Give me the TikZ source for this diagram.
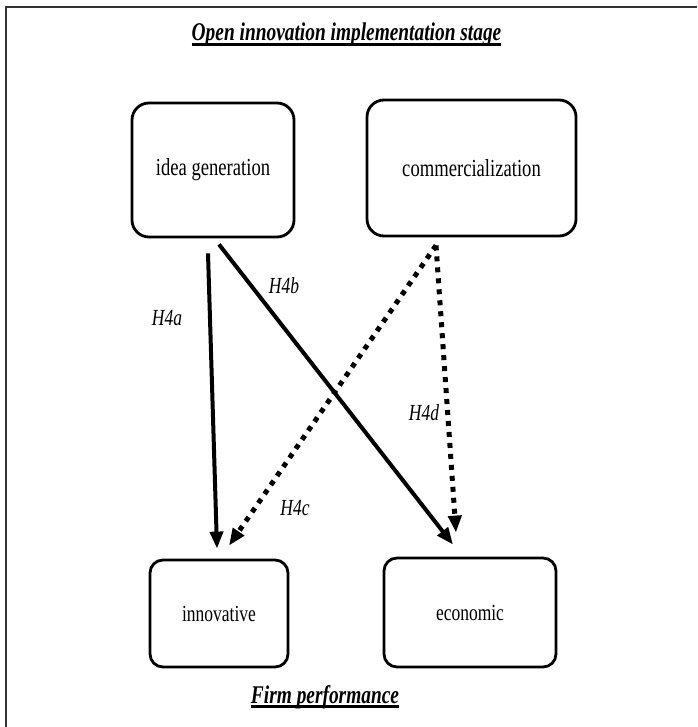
\documentclass[tikz,border=0pt]{standalone}
\usepackage{fontspec}
\setmainfont{Liberation Serif}[FakeStretch=0.76]
\usetikzlibrary{arrows.meta}
\newcommand\thickul[1]{\setbox0\hbox{#1}\rlap{\rule[-5pt]{\wd0}{2.6pt}}\box0}
\begin{document}
\begin{tikzpicture}[x=1pt,y=-1pt,
  box/.style={draw, line width=2.8pt, rounded corners=17pt, inner sep=0pt, align=center,
    font=\fontsize{24.5}{28}\selectfont},
  lowbox/.style={box, rounded corners=13pt, font=\fontsize{23}{27}\selectfont},
  heading/.style={inner sep=0pt, anchor=base, font=\fontsize{25.5}{30}\selectfont\bfseries\itshape},
  hyp/.style={inner sep=0pt, font=\fontsize{23}{27}\selectfont\itshape},
  solidarrow/.style={line width=4pt, -{Triangle[length=17pt,width=13pt]}},
  dotarrow/.style={line width=5pt, dash pattern=on 5pt off 6pt, -{Triangle[length=17pt,width=13pt]}},
  frameline/.style={line width=2pt, black!80}]
\useasboundingbox (0,0) rectangle (697,727);
\draw[frameline] (697,7) -- (6,7) -- (6,727);

\node[heading] (title) at (346.5,41) {\thickul{Open innovation implementation stage}};
\node[heading] (firm) at (325,703) {\thickul{Firm performance}};

\node[box, minimum width=162pt, minimum height=134pt] (idea) at (213,170) {idea generation};
\node[box, minimum width=209pt, minimum height=136pt] (comm) at (471.5,168) {commercialization};
\node[lowbox, minimum width=138pt, minimum height=107pt] (innov) at (219,613.5) {innovative};
\node[lowbox, minimum width=172pt, minimum height=109pt] (econ) at (470,612.5) {economic};

\draw[solidarrow] ([xshift=-5pt,yshift=-15pt]idea.south) -- ([xshift=-2pt,yshift=10pt]innov.north);
\draw[solidarrow] ([xshift=6pt,yshift=-6pt]idea.south) -- ([xshift=-17pt,yshift=12pt]econ.north);
\draw[dotarrow] ([xshift=-35.5pt,yshift=-8pt]comm.south) -- ([xshift=10pt,yshift=13pt]innov.north);
\draw[dotarrow] ([xshift=-35.5pt,yshift=-8pt]comm.south) -- ([xshift=-14pt,yshift=24pt]econ.north);

\node[hyp] (h4a) at (167,318) {H4a};
\node[hyp] (h4b) at (284,286) {H4b};
\node[hyp] (h4c) at (295,508) {H4c};
\node[hyp] (h4d) at (424,413) {H4d};
\end{tikzpicture}
\end{document}
